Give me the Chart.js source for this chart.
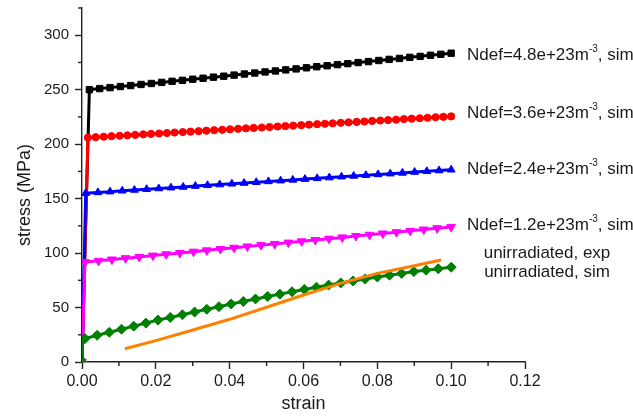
<!DOCTYPE html>
<html>
<head>
<meta charset="utf-8">
<script src="https://cdn.jsdelivr.net/npm/chart.js@4.4.1/dist/chart.umd.min.js"></script>
<style>
  html, body { margin: 0; padding: 0; background: #fff; }
  canvas { display: block; }
</style>
</head>
<body>
<canvas id="grafico" width="633" height="416"></canvas>
<script>
// Ndef = 4.8e+23, sim
const strainN48 = [0, 0.002, 0.0048, 0.0076, 0.0104, 0.0132, 0.016, 0.0188, 0.0216, 0.0244, 0.0272, 0.03, 0.0328, 0.0356, 0.0384, 0.0412, 0.044, 0.0468, 0.0496, 0.0524, 0.0552, 0.058, 0.0608, 0.0636, 0.0664, 0.0692, 0.072, 0.0748, 0.0776, 0.0804, 0.0832, 0.086, 0.0888, 0.0916, 0.0944, 0.0972, 0.1];
const stressN48 = [0, 250.0, 251.0, 251.9, 252.9, 253.8, 254.8, 255.7, 256.7, 257.7, 258.6, 259.6, 260.5, 261.5, 262.4, 263.4, 264.4, 265.3, 266.3, 267.2, 268.2, 269.1, 270.1, 271.1, 272.0, 273.0, 273.9, 274.9, 275.8, 276.8, 277.8, 278.7, 279.7, 280.6, 281.6, 282.5, 283.5];

// Ndef = 3.6e+23, sim
const strainN36 = [0, 0.0016, 0.0037, 0.0059, 0.008, 0.0102, 0.0123, 0.0144, 0.0166, 0.0187, 0.0209, 0.023, 0.0251, 0.0273, 0.0294, 0.0316, 0.0337, 0.0358, 0.038, 0.0401, 0.0423, 0.0444, 0.0465, 0.0487, 0.0508, 0.053, 0.0551, 0.0572, 0.0594, 0.0615, 0.0637, 0.0658, 0.0679, 0.0701, 0.0722, 0.0744, 0.0765, 0.0786, 0.0808, 0.0829, 0.0851, 0.0872, 0.0893, 0.0915, 0.0936, 0.0958, 0.0979, 0.1];
const stressN36 = [0, 206.0, 206.4, 206.8, 207.3, 207.7, 208.1, 208.5, 209.0, 209.4, 209.8, 210.2, 210.7, 211.1, 211.5, 211.9, 212.4, 212.8, 213.2, 213.6, 214.1, 214.5, 214.9, 215.3, 215.7, 216.2, 216.6, 217.0, 217.4, 217.9, 218.3, 218.7, 219.1, 219.6, 220.0, 220.4, 220.8, 221.3, 221.7, 222.1, 222.5, 223.0, 223.4, 223.8, 224.2, 224.7, 225.1, 225.5];

// Ndef = 2.4e+23, sim
const strainN24 = [0, 0.001, 0.0043, 0.0076, 0.0109, 0.0142, 0.0175, 0.0208, 0.0241, 0.0274, 0.0307, 0.034, 0.0373, 0.0406, 0.0439, 0.0472, 0.0505, 0.0538, 0.0571, 0.0604, 0.0637, 0.067, 0.0703, 0.0736, 0.0769, 0.0802, 0.0835, 0.0868, 0.0901, 0.0934, 0.0967, 0.1];
const stressN24 = [0, 155.0, 155.7, 156.4, 157.2, 157.9, 158.6, 159.3, 160.0, 160.7, 161.5, 162.2, 162.9, 163.6, 164.3, 165.0, 165.8, 166.5, 167.2, 167.9, 168.6, 169.3, 170.1, 170.8, 171.5, 172.2, 172.9, 173.6, 174.4, 175.1, 175.8, 176.5];

// Ndef = 1.2e+23, sim
const strainN12 = [0, 0.0008, 0.0045, 0.0081, 0.0118, 0.0155, 0.0192, 0.0228, 0.0265, 0.0302, 0.0338, 0.0375, 0.0412, 0.0448, 0.0485, 0.0522, 0.0559, 0.0595, 0.0632, 0.0669, 0.0705, 0.0742, 0.0779, 0.0815, 0.0852, 0.0889, 0.0926, 0.0962, 0.1];
const stressN12 = [0, 91.7, 92.9, 94.1, 95.3, 96.5, 97.7, 98.9, 100.1, 101.3, 102.5, 103.7, 104.9, 106.1, 107.3, 108.4, 109.6, 110.8, 112.0, 113.2, 114.4, 115.6, 116.8, 118.0, 119.2, 120.4, 121.6, 122.8, 124.0];

// unirradiated, sim
const strainUnirrSim = [0, 0.0001, 0.0008, 0.0041, 0.0074, 0.0107, 0.014, 0.0173, 0.0206, 0.0239, 0.0272, 0.0305, 0.0338, 0.0371, 0.0404, 0.0437, 0.047, 0.0503, 0.0536, 0.0569, 0.0602, 0.0635, 0.0668, 0.0701, 0.0734, 0.0767, 0.08, 0.0833, 0.0866, 0.0899, 0.0932, 0.0965, 0.1];
const stressUnirrSim = [0, 20.0, 21.5, 24.5, 27.3, 30.1, 32.9, 35.7, 38.5, 40.9, 43.4, 45.9, 48.4, 50.8, 53.3, 55.6, 57.9, 60.2, 62.3, 64.5, 66.6, 68.6, 70.6, 72.6, 74.4, 76.2, 78.0, 79.7, 81.3, 83.0, 84.3, 85.6, 87.0];

// unirradiated, exp
const strainUnirrExp = [0.0116, 0.02, 0.03, 0.04, 0.05, 0.06, 0.07, 0.08, 0.09, 0.0973];
const stressUnirrExp = [12.2, 19.6, 29.4, 39.2, 50.3, 61.5, 72.2, 81.4, 88.4, 93.6];

const legendas = [
  ['Ndef=4.8e+23m', '-3', ', sim'],
  ['Ndef=3.6e+23m', '-3', ', sim'],
  ['Ndef=2.4e+23m', '-3', ', sim'],
  ['Ndef=1.2e+23m', '-3', ', sim'],
  ['unirradiated, exp'],
  ['unirradiated, sim']
];

const FONTE = '"Liberation Sans", Arial, sans-serif';
const COR_EIXO = '#222222';

function pontos(xs, ys) {
  return xs.map((x, i) => ({ x: x, y: ys[i] }));
}

function serie(xs, ys, cor, estilo, raio, rot, ordem) {
  return {
    data: pontos(xs, ys),
    borderColor: cor,
    backgroundColor: cor,
    borderWidth: 3,
    pointStyle: estilo,
    pointRadius: raio,
    pointRotation: rot,
    pointBorderWidth: 1,
    pointBorderColor: cor,
    pointBackgroundColor: cor,
    tension: 0,
    order: ordem
  };
}

function ehMaiorX(v) { return Math.round(v * 100) % 2 === 0; }
function ehMaiorY(v) { return Math.round(v) % 50 === 0; }

const eixosPlugin = {
  id: 'eixos',
  afterDraw(chart) {
    const ctx = chart.ctx;
    const xs = chart.scales.x;
    const ys = chart.scales.y;
    const area = chart.chartArea;
    ctx.save();

    // ticks menores
    ctx.fillStyle = COR_EIXO;
    xs.ticks.forEach(t => {
      if (ehMaiorX(t.value)) return;
      const px = xs.getPixelForValue(t.value);
      ctx.fillRect(px - 0.7, area.bottom, 1.4, 4);
    });
    ys.ticks.forEach(t => {
      if (ehMaiorY(t.value)) return;
      const py = ys.getPixelForValue(t.value);
      ctx.fillRect(area.left - 4, py - 0.7, 4, 1.4);
    });

    // titulos dos eixos
    ctx.fillStyle = '#1a1a1a';
    ctx.font = '18px ' + FONTE;
    ctx.textAlign = 'center';
    ctx.textBaseline = 'middle';
    ctx.fillText('strain', (area.left + area.right) / 2, 404);
    ctx.save();
    ctx.translate(25, 195);
    ctx.rotate(-Math.PI / 2);
    ctx.fillText('stress (MPa)', 0, 0);
    ctx.restore();

    // legenda
    const linhas = [59.5, 117.5, 174, 229.5, 257.5, 276.5];
    ctx.textBaseline = 'alphabetic';
    legendas.forEach((partes, i) => {
      const y = linhas[i];
      if (partes.length === 1) {
        ctx.font = '17px ' + FONTE;
        ctx.textAlign = 'center';
        ctx.fillText(partes[0], 547, y);
        return;
      }
      ctx.textAlign = 'left';
      let x = 467;
      ctx.font = '17px ' + FONTE;
      ctx.fillText(partes[0], x, y);
      x += ctx.measureText(partes[0]).width;
      ctx.font = '10px ' + FONTE;
      ctx.fillText(partes[1], x, y - 8);
      x += ctx.measureText(partes[1]).width;
      ctx.font = '17px ' + FONTE;
      ctx.fillText(partes[2], x, y);
    });
    ctx.restore();
  }
};

const grafico = new Chart(document.getElementById('grafico'), {
  type: 'line',
  data: {
    datasets: [
      serie(strainN48, stressN48, '#000000', 'rect', 4.5, 0, 6),
      serie(strainN36, stressN36, '#ff0000', 'circle', 3.6, 0, 5),
      serie(strainN24, stressN24, '#0000ff', 'triangle', 4.5, 0, 4),
      serie(strainN12, stressN12, '#ff00ff', 'triangle', 5, 180, 3),
      serie(strainUnirrSim, stressUnirrSim, '#008000', 'rectRot', 5, 0, 2),
      {
        data: pontos(strainUnirrExp, stressUnirrExp),
        borderColor: '#ff8000',
        backgroundColor: '#ff8000',
        borderWidth: 3,
        pointRadius: 0,
        tension: 0,
        order: 1
      }
    ]
  },
  options: {
    responsive: false,
    animation: false,
    devicePixelRatio: 1,
    layout: { padding: { left: 0, right: 108, top: 8, bottom: 0 } },
    plugins: {
      legend: { display: false },
      tooltip: { enabled: false }
    },
    scales: {
      x: {
        type: 'linear',
        min: 0,
        max: 0.12,
        afterFit: s => { s.height = 54; s.paddingLeft = 0; s.paddingRight = 0; },
        grid: {
          display: true,
          drawOnChartArea: false,
          drawTicks: true,
          tickLength: 7,
          tickWidth: 1.4,
          tickColor: c => (c.tick && ehMaiorX(c.tick.value) ? COR_EIXO : 'rgba(0,0,0,0)')
        },
        border: { display: true, color: COR_EIXO, width: 1.4 },
        ticks: {
          stepSize: 0.01,
          autoSkip: false,
          maxRotation: 0,
          padding: 3,
          color: '#1a1a1a',
          font: { family: FONTE, size: 16 },
          callback: v => (ehMaiorX(v) ? v.toFixed(2) : '')
        }
      },
      y: {
        type: 'linear',
        min: 0,
        max: 325,
        afterFit: s => { s.width = 82; s.paddingTop = 0; s.paddingBottom = 0; },
        grid: {
          display: true,
          drawOnChartArea: false,
          drawTicks: true,
          tickLength: 7,
          tickWidth: 1.4,
          tickColor: c => (c.tick && ehMaiorY(c.tick.value) ? COR_EIXO : 'rgba(0,0,0,0)')
        },
        border: { display: true, color: COR_EIXO, width: 1.4 },
        ticks: {
          stepSize: 25,
          autoSkip: false,
          padding: 6,
          color: '#1a1a1a',
          font: { family: FONTE, size: 15 },
          callback: v => (ehMaiorY(v) ? String(v) : '')
        }
      }
    }
  },
  plugins: [eixosPlugin]
});
</script>
</body>
</html>
